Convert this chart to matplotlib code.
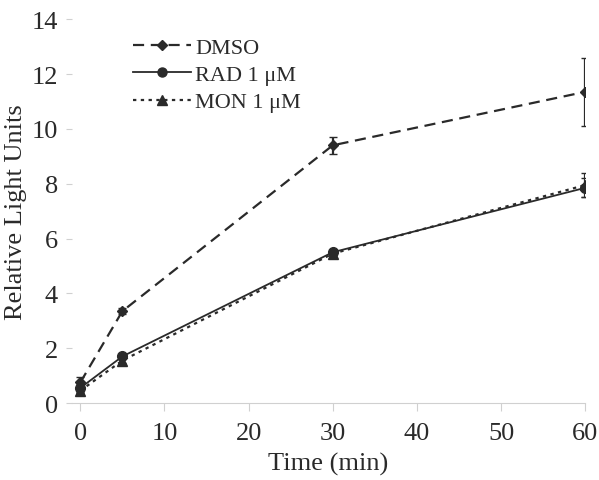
import matplotlib.pyplot as plt
from matplotlib.lines import Line2D
from matplotlib.legend_handler import HandlerLine2D

plt.rcParams['font.family'] = ['Liberation Serif', 'DejaVu Serif']

time_min = [0, 5, 30, 60]

dmso = [0.75, 3.35, 9.4, 11.35]
dmso_err = [0.2, 0.1, 0.3, 1.25]

rad = [0.55, 1.7, 5.5, 7.85]
rad_err = [0.15, 0.1, 0.1, 0.35]

mon = [0.45, 1.55, 5.45, 7.95]
mon_err = [0.1, 0.1, 0.1, 0.45]

ink = '#2a2a2a'
dash = (0, (5, 3))
dots = (0, (1.5, 2))


class EndMarkerHandler(HandlerLine2D):
    # draw the marker at the right end of the legend line
    def get_xdata(self, legend, xdescent, ydescent, width, height, fontsize):
        xdata, _ = super().get_xdata(legend, xdescent, ydescent, width, height, fontsize)
        return xdata, [-xdescent + width]


fig = plt.figure(figsize=(5.99, 4.81), dpi=100)
ax = fig.add_axes([0.12, 0.16, 0.857, 0.798])

ax.errorbar(time_min, dmso, yerr=dmso_err, color=ink, linestyle=dash,
            linewidth=1.6, marker='D', markersize=5.5, capsize=3)
ax.errorbar(time_min, rad, yerr=rad_err, color=ink, linestyle='-',
            linewidth=1.3, marker='o', markersize=7, capsize=3)
ax.errorbar(time_min, mon, yerr=mon_err, color=ink, linestyle=dots,
            linewidth=1.6, marker='^', markersize=7, capsize=3)

ax.set_xlim(-1, 60)
ax.set_ylim(0, 14)
ax.set_xticks([0, 10, 20, 30, 40, 50, 60])
ax.set_yticks(range(0, 15, 2))

for s in ['top', 'right', 'left']:
    ax.spines[s].set_visible(False)
ax.spines['bottom'].set_color('#d0d0d0')
ax.tick_params(axis='x', colors='#d0d0d0', labelcolor=ink, labelsize=19, length=6, pad=8)
ax.tick_params(axis='y', colors='#d0d0d0', labelcolor=ink, labelsize=19, length=4, pad=6)

ax.set_xlabel('Time (min)', fontsize=19, color=ink, labelpad=5)
ax.set_ylabel('Relative Light Units', fontsize=19, color=ink, labelpad=3)

handles = [
    Line2D([], [], color=ink, linestyle=dash, linewidth=1.6, marker='D', markersize=5.5),
    Line2D([], [], color=ink, linestyle='-', linewidth=1.3, marker='o', markersize=6.5),
    Line2D([], [], color=ink, linestyle=dots, linewidth=1.6, marker='^', markersize=7),
]
labels = ['DMSO', 'RAD 1 μM', 'MON 1 μM']
ax.legend(handles, labels, loc='upper left', bbox_to_anchor=(0.08, 1.005), frameon=False,
          fontsize=16, handlelength=2.6, handletextpad=0.2, labelspacing=0.3,
          labelcolor=ink, handler_map={Line2D: EndMarkerHandler()})

fig.savefig('out.png', dpi=100)
